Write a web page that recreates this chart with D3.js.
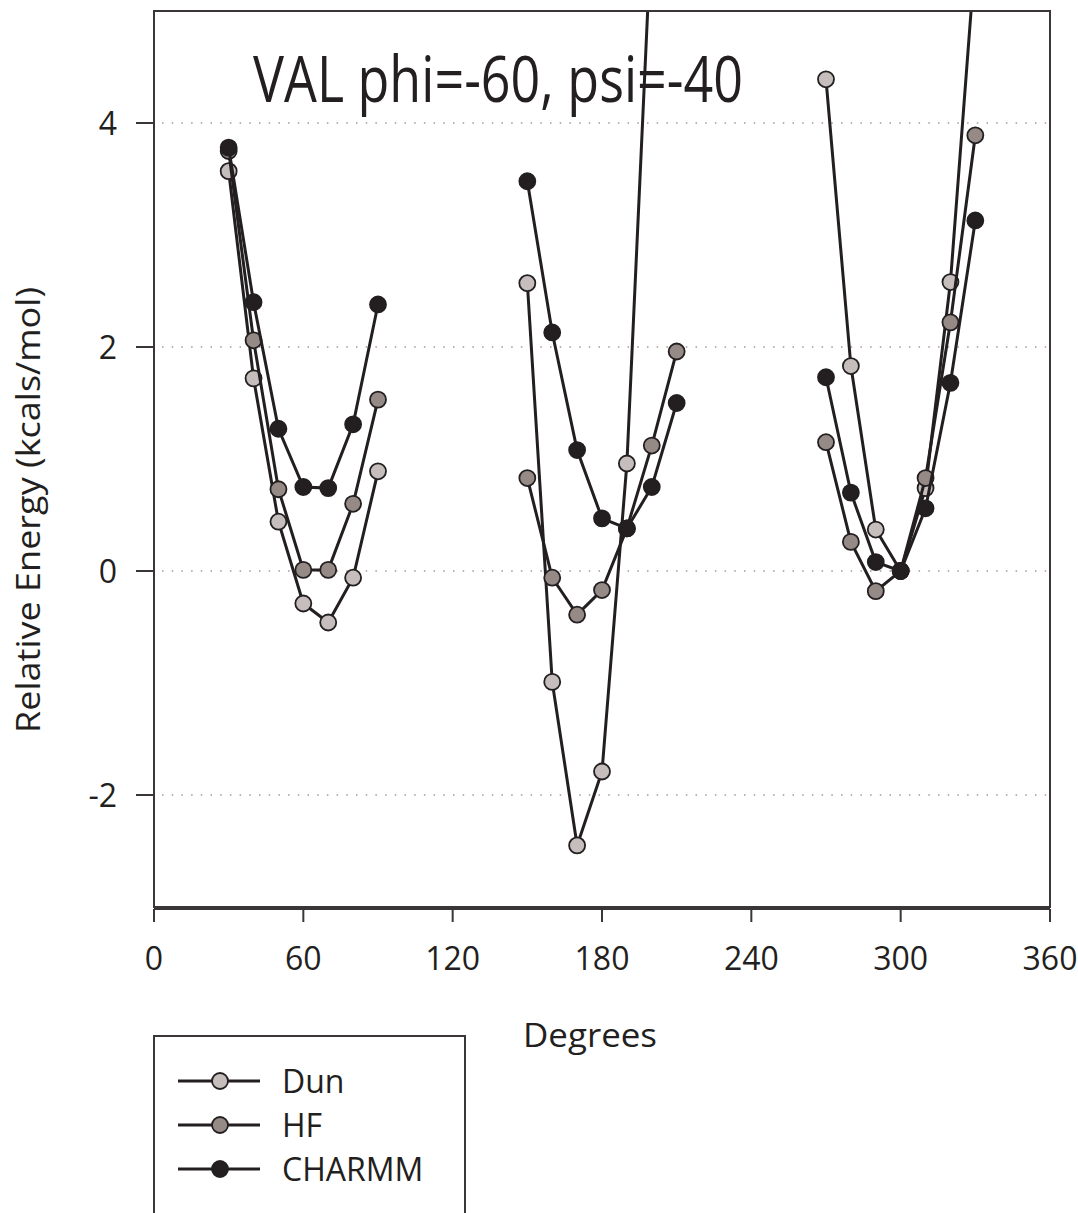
<!DOCTYPE html>
<html>
<head>
<meta charset="utf-8">
<script src="https://cdn.jsdelivr.net/npm/d3@7"></script>
<style>
  body { margin: 0; background: #fff; }
  text { font-family: "Open Sans", "Noto Sans", sans-serif; fill: #231f20; }
</style>
</head>
<body>
<div id="chart"></div>
<script>
// Torsion angles (degrees) and relative energies (kcals/mol)
const angles = [30, 40, 50, 60, 70, 80, 90, 150, 160, 170, 180, 190, 200, 210, 270, 280, 290, 300, 310, 320, 330];
const dun    = [3.57, 1.72, 0.44, -0.29, -0.46, -0.06, 0.89, 2.57, -0.99, -2.45, -1.79, 0.96, 5.8, 6.6, 4.39, 1.83, 0.37, 0, 0.74, 2.58, 5.5];
const hf     = [3.75, 2.06, 0.73, 0.01, 0.01, 0.60, 1.53, 0.83, -0.06, -0.39, -0.17, 0.38, 1.12, 1.96, 1.15, 0.26, -0.18, 0, 0.83, 2.22, 3.89];
const charmm = [3.78, 2.40, 1.27, 0.75, 0.74, 1.31, 2.38, 3.48, 2.13, 1.08, 0.47, 0.38, 0.75, 1.50, 1.73, 0.70, 0.08, 0, 0.56, 1.68, 3.13];

const seriesNames = ['Dun', 'HF', 'CHARMM'];
const seriesValues = [dun, hf, charmm];
const seriesFill = ['#c6bebc', '#968a86', '#231f20'];

const xTicks = [0, 60, 120, 180, 240, 300, 360];
const yTicks = [-2, 0, 2, 4];

const ink = '#231f20';

const svg = d3.select('#chart').append('svg')
    .attr('width', 1078)
    .attr('height', 1213);

const x = d3.scaleLinear().domain([0, 360]).range([154, 1050]);
const y = d3.scaleLinear().domain([-3, 5]).range([907, 11]);

svg.append('clipPath').attr('id', 'plot-clip')
  .append('rect')
    .attr('x', 154).attr('y', 11)
    .attr('width', 896).attr('height', 896);

// dotted grid lines
svg.append('g').selectAll('line')
    .data(yTicks)
    .enter().append('line')
    .attr('x1', x(0) + 8).attr('x2', x(360))
    .attr('y1', d => y(d)).attr('y2', d => y(d))
    .attr('stroke', '#bdb0b0')
    .attr('stroke-width', 2)
    .attr('stroke-dasharray', '1.5,8.2');

// title
svg.append('text')
    .attr('x', 253).attr('y', 102)
    .attr('font-size', 64)
    .attr('textLength', 490)
    .attr('lengthAdjust', 'spacingAndGlyphs')
    .text('VAL phi=-60, psi=-40');

// series: break the line wherever the angles jump by more than 10 degrees
const line = d3.line()
    .defined(d => d != null)
    .x(d => x(d.a))
    .y(d => y(d.v));

const plot = svg.append('g').attr('clip-path', 'url(#plot-clip)');

seriesValues.forEach((vals, i) => {
  const pts = [];
  angles.forEach((a, j) => {
    if (j > 0 && a - angles[j - 1] > 10) pts.push(null);
    pts.push({ a: a, v: vals[j] });
  });
  const g = plot.append('g');
  g.append('path')
      .datum(pts)
      .attr('d', line)
      .attr('fill', 'none')
      .attr('stroke', ink)
      .attr('stroke-width', 3);
  g.selectAll('circle')
      .data(pts.filter(p => p != null))
      .enter().append('circle')
      .attr('cx', d => x(d.a))
      .attr('cy', d => y(d.v))
      .attr('r', 8)
      .attr('fill', seriesFill[i])
      .attr('stroke', ink)
      .attr('stroke-width', 1.8);
});

// frame
svg.append('rect')
    .attr('x', 154).attr('y', 11)
    .attr('width', 896).attr('height', 896)
    .attr('fill', 'none')
    .attr('stroke', '#3a3536')
    .attr('stroke-width', 2);

// x axis
const xAxis = svg.append('g').attr('transform', 'translate(0,909)');
xAxis.append('line')
    .attr('x1', x(0)).attr('x2', x(360))
    .attr('stroke', '#3a3536').attr('stroke-width', 2);
xAxis.selectAll('.tick')
    .data(xTicks)
    .enter().append('line')
    .attr('x1', d => x(d)).attr('x2', d => x(d))
    .attr('y1', 0).attr('y2', 13)
    .attr('stroke', '#3a3536').attr('stroke-width', 2);
xAxis.selectAll('text')
    .data(xTicks)
    .enter().append('text')
    .attr('x', d => x(d))
    .attr('y', 61)
    .attr('text-anchor', 'middle')
    .attr('font-size', 32)
    .text(d => d);

// y axis
const yAxis = svg.append('g');
yAxis.selectAll('line')
    .data(yTicks)
    .enter().append('line')
    .attr('x1', 136).attr('x2', 154)
    .attr('y1', d => y(d)).attr('y2', d => y(d))
    .attr('stroke', '#3a3536').attr('stroke-width', 2);
yAxis.selectAll('text')
    .data(yTicks)
    .enter().append('text')
    .attr('x', 117)
    .attr('y', d => y(d) + 12)
    .attr('text-anchor', 'end')
    .attr('font-size', 32)
    .text(d => d);

// axis titles
svg.append('text')
    .attr('transform', 'translate(40,510) rotate(-90)')
    .attr('text-anchor', 'middle')
    .attr('font-size', 32)
    .attr('textLength', 446)
    .attr('lengthAdjust', 'spacingAndGlyphs')
    .text('Relative Energy (kcals/mol)');

svg.append('text')
    .attr('x', 590).attr('y', 1047)
    .attr('text-anchor', 'middle')
    .attr('font-size', 32)
    .attr('textLength', 134)
    .attr('lengthAdjust', 'spacingAndGlyphs')
    .text('Degrees');

// legend
const legend = svg.append('g');
legend.append('rect')
    .attr('x', 154).attr('y', 1036)
    .attr('width', 311).attr('height', 200)
    .attr('fill', 'none')
    .attr('stroke', '#3a3536')
    .attr('stroke-width', 2);

const rows = legend.selectAll('.row')
    .data(seriesNames)
    .enter().append('g')
    .attr('transform', (d, i) => `translate(0,${1081 + i * 44})`);
rows.append('line')
    .attr('x1', 178).attr('x2', 260)
    .attr('stroke', ink).attr('stroke-width', 3);
rows.append('circle')
    .attr('cx', 220).attr('r', 8)
    .attr('fill', (d, i) => seriesFill[i])
    .attr('stroke', ink).attr('stroke-width', 1.8);
rows.append('text')
    .attr('x', 282).attr('y', 12)
    .attr('font-size', 32)
    .text(d => d);
</script>
</body>
</html>
